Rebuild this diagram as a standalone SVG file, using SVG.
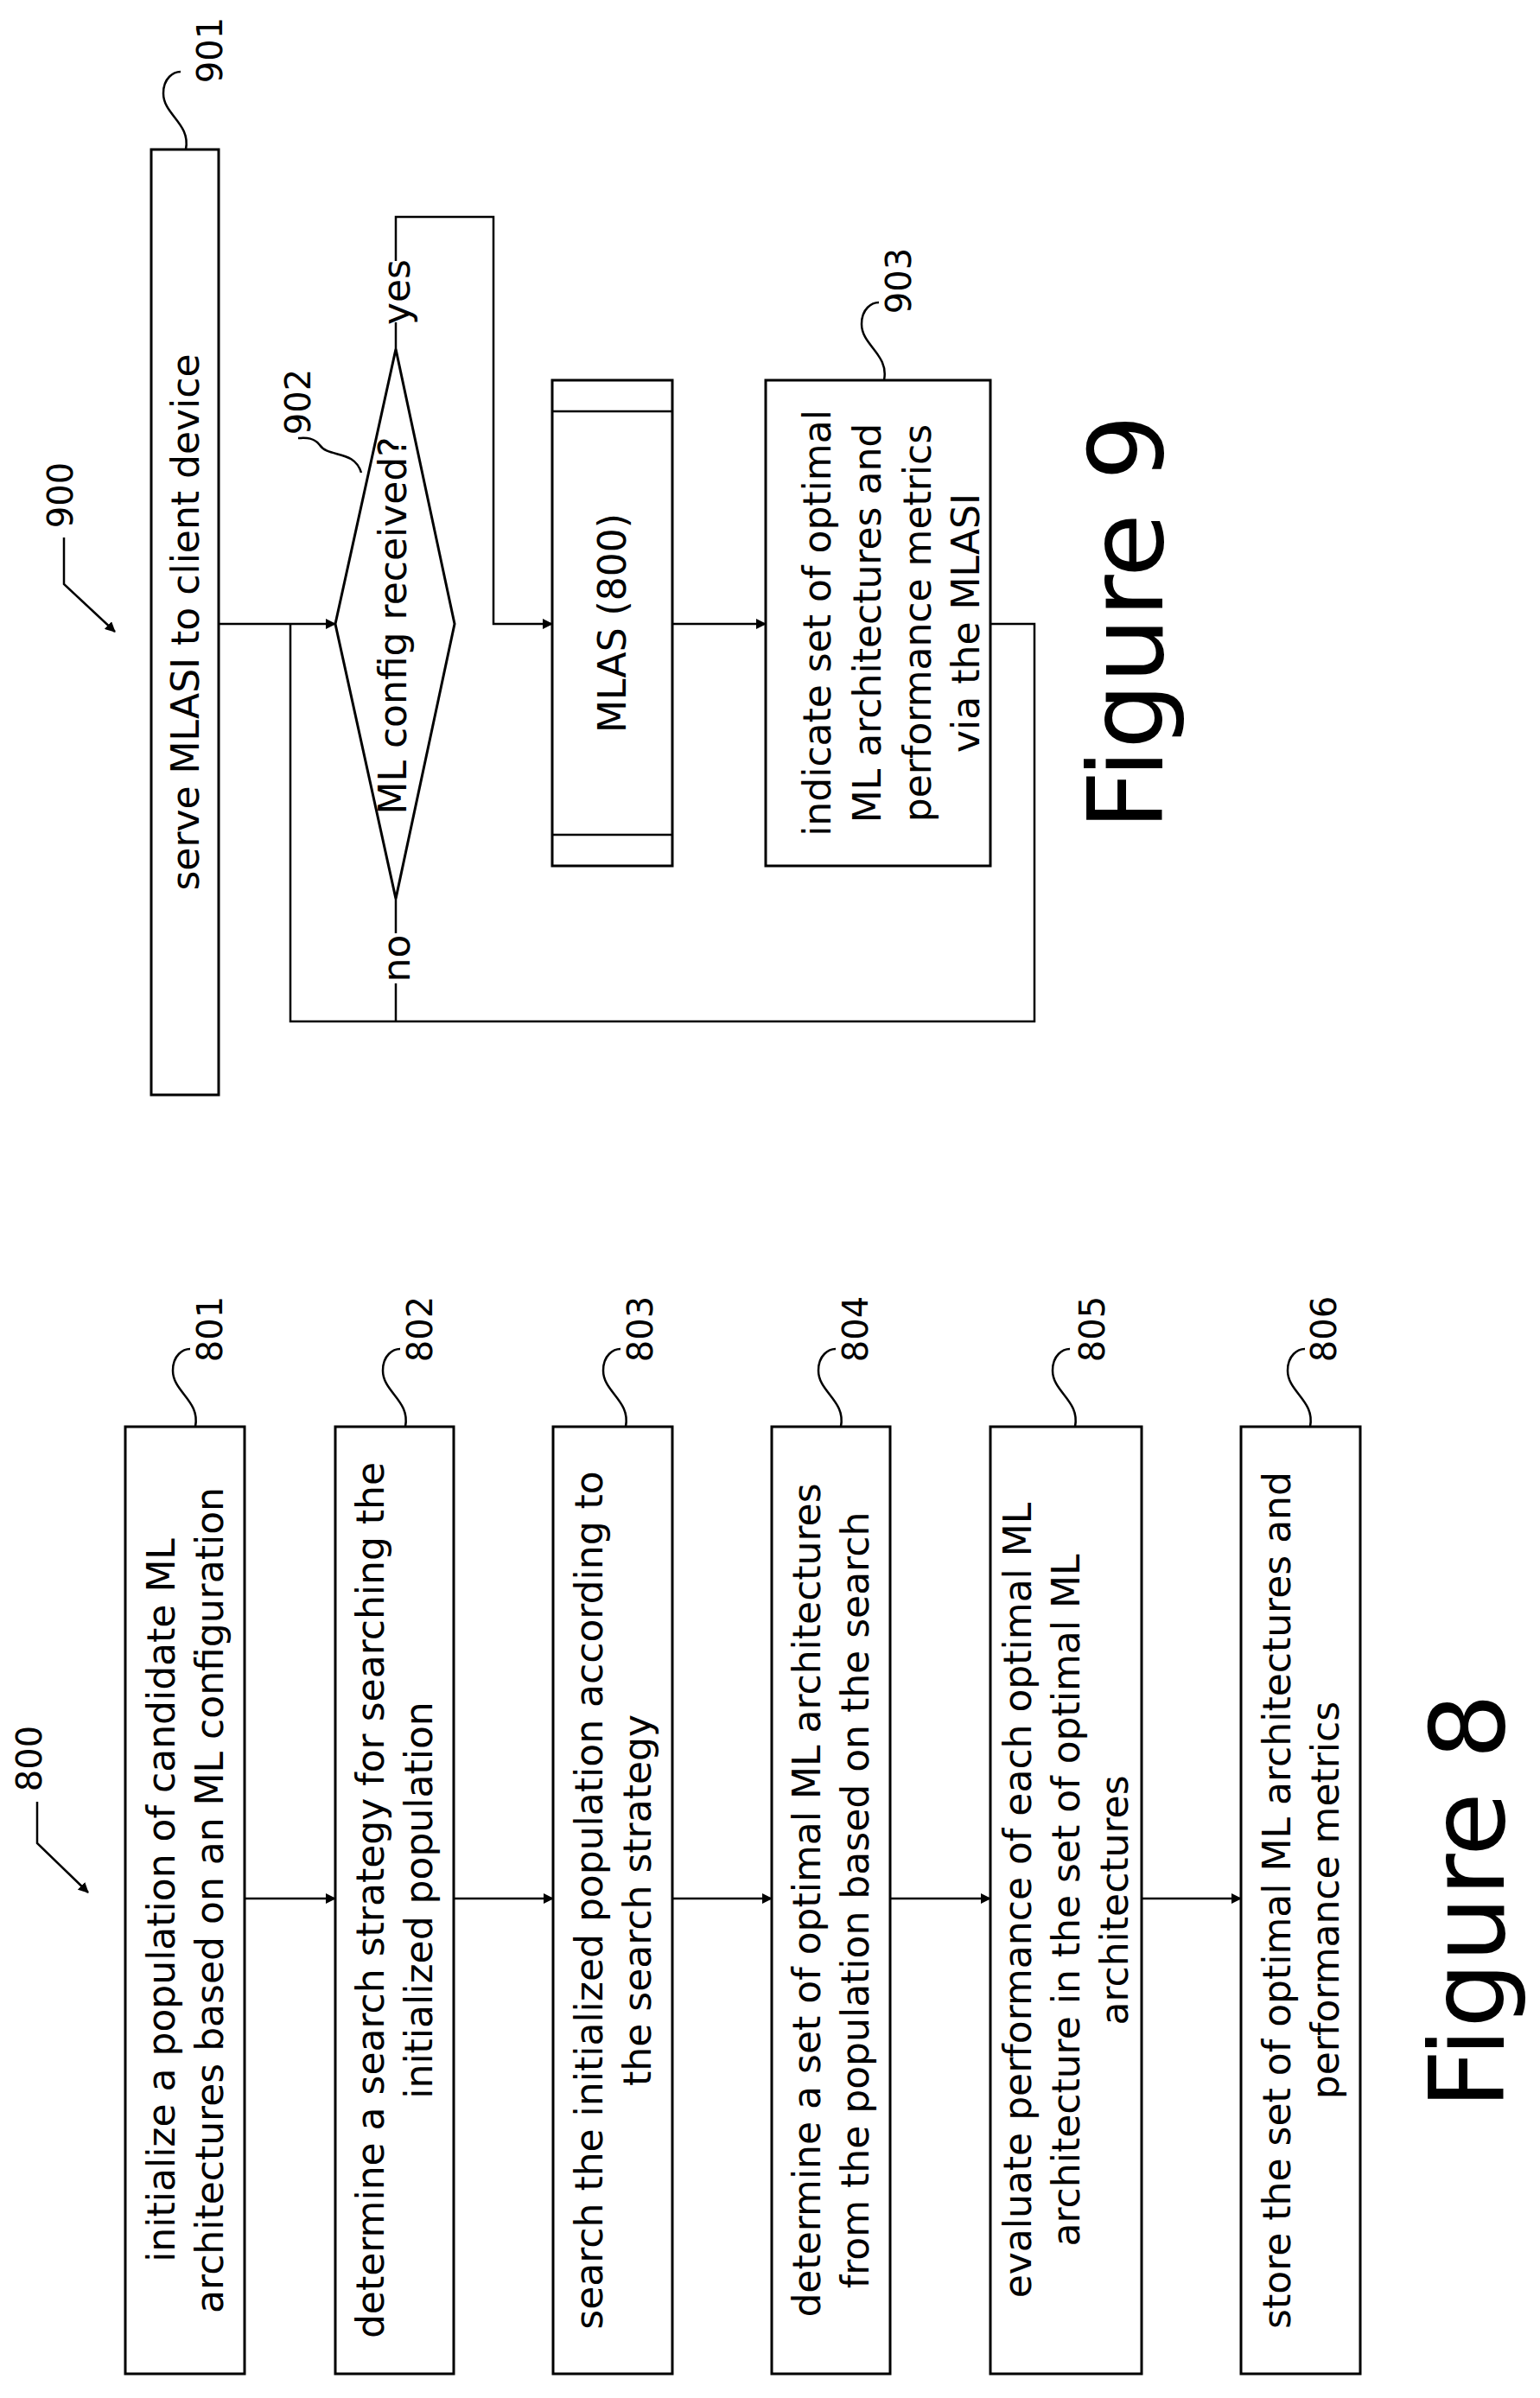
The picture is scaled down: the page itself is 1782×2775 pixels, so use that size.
<svg xmlns="http://www.w3.org/2000/svg" width="1782" height="2775" viewBox="0 0 1782 2775">
<defs>
<marker id="ah" markerWidth="12" markerHeight="12" refX="11" refY="6" orient="auto" markerUnits="userSpaceOnUse"><path d="M0,0 L12,6 L0,12 Z" fill="#000"/></marker>
<style>
.b{fill:#fff;stroke:#000;stroke-width:3}
.l{fill:none;stroke:#000;stroke-width:2.5}
.t{font-family:"DejaVu Sans",Verdana,sans-serif;font-size:44px;text-anchor:middle;dominant-baseline:central;fill:#000}
.r{font-family:"DejaVu Sans",Verdana,sans-serif;font-size:40px;text-anchor:middle;dominant-baseline:central;fill:#000}
.f{font-family:"DejaVu Sans",Verdana,sans-serif;font-size:120px;text-anchor:middle;fill:#000}
</style>
</defs>
<rect width="1782" height="2775" fill="#fff"/>
<g id="connectors">
<line class="l" x1="253" y1="722" x2="388" y2="722" marker-end="url(#ah)"/>
<polyline class="l" points="458,404 458,373"/>
<polyline class="l" points="458,302 458,251 571,251 571,722 639,722" marker-end="url(#ah)"/>
<polyline class="l" points="458,1040 458,1080"/>
<polyline class="l" points="458,1138 458,1182"/>
<polyline class="l" points="1146,722 1197,722 1197,1182 336,1182 336,722"/>
<line class="l" x1="778" y1="722" x2="886" y2="722" marker-end="url(#ah)"/>
<line class="l" x1="283" y1="2197" x2="388" y2="2197" marker-end="url(#ah)"/>
<line class="l" x1="525" y1="2197" x2="640" y2="2197" marker-end="url(#ah)"/>
<line class="l" x1="778" y1="2197" x2="893" y2="2197" marker-end="url(#ah)"/>
<line class="l" x1="1030" y1="2197" x2="1146" y2="2197" marker-end="url(#ah)"/>
<line class="l" x1="1321" y1="2197" x2="1436" y2="2197" marker-end="url(#ah)"/>
<polyline class="l" points="74,622 74,676 133,731" marker-end="url(#ah)"/>
<polyline class="l" points="43,2085 43,2133 102,2190" marker-end="url(#ah)"/>
</g>
<g id="labels-fig9">
<text class="r" transform="translate(243,58) rotate(-90)">901</text>
<path class="l" d="M215,173 c6,-30 -26,-40 -26,-65 c0,-18 12,-25 20,-25"/>
<text class="r" transform="translate(70,573) rotate(-90)">900</text>
<text class="r" transform="translate(345,465) rotate(-90)">902</text>
<path class="l" d="M418,547 C410,520 380,530 370,515 C362,505 352,507 345,507"/>
<text class="r" transform="translate(1040,325) rotate(-90)">903</text>
<path class="l" d="M1023,440 c6,-30 -26,-40 -26,-65 c0,-18 12,-25 20,-25"/>
<text class="t" transform="translate(458,338) rotate(-90)">yes</text>
<text class="t" transform="translate(458,1109) rotate(-90)">no</text>
<text class="f" transform="translate(1345,720) rotate(-90)">Figure 9</text>
</g>
<g id="n901"><rect class="b" x="175" y="173" width="78" height="1094"/><text class="t" transform="translate(214,720) rotate(-90)">serve MLASI to client device</text></g>
<g id="n902"><polygon class="b" points="458,404 526,722 458,1040 388,722"/><text class="t" transform="translate(454,724) rotate(-90)">ML config received?</text></g>
<g id="n800sub"><rect class="b" x="639" y="440" width="139" height="562"/><line class="l" x1="639" y1="476" x2="778" y2="476"/><line class="l" x1="639" y1="966" x2="778" y2="966"/><text class="t" transform="translate(708,721) rotate(-90)">MLAS (800)</text></g>
<g id="n903"><rect class="b" x="886" y="440" width="260" height="562"/>
<text class="t" transform="translate(945,721) rotate(-90)">indicate set of optimal</text>
<text class="t" transform="translate(1003,721) rotate(-90)">ML architectures and</text>
<text class="t" transform="translate(1061,721) rotate(-90)">performance metrics</text>
<text class="t" transform="translate(1117,721) rotate(-90)">via the MLASI</text></g>
<g id="labels-fig8">
<text class="r" transform="translate(34,2035) rotate(-90)">800</text>
<text class="r" transform="translate(243,1538) rotate(-90)">801</text>
<text class="r" transform="translate(486,1538) rotate(-90)">802</text>
<text class="r" transform="translate(741,1538) rotate(-90)">803</text>
<text class="r" transform="translate(990,1538) rotate(-90)">804</text>
<text class="r" transform="translate(1264,1538) rotate(-90)">805</text>
<text class="r" transform="translate(1532,1538) rotate(-90)">806</text>
<path class="l" d="M226,1651 c6,-30 -26,-40 -26,-65 c0,-18 12,-25 20,-25"/>
<path class="l" d="M469,1651 c6,-30 -26,-40 -26,-65 c0,-18 12,-25 20,-25"/>
<path class="l" d="M724,1651 c6,-30 -26,-40 -26,-65 c0,-18 12,-25 20,-25"/>
<path class="l" d="M973,1651 c6,-30 -26,-40 -26,-65 c0,-18 12,-25 20,-25"/>
<path class="l" d="M1244,1651 c6,-30 -26,-40 -26,-65 c0,-18 12,-25 20,-25"/>
<path class="l" d="M1516,1651 c6,-30 -26,-40 -26,-65 c0,-18 12,-25 20,-25"/>
<text class="f" transform="translate(1740,2200) rotate(-90)">Figure 8</text>
</g>
<g id="n801"><rect class="b" x="145" y="1651" width="138" height="1096"/>
<text class="t" transform="translate(186,2199) rotate(-90)">initialize a population of candidate ML</text>
<text class="t" transform="translate(242,2199) rotate(-90)">architectures based on an ML configuration</text></g>
<g id="n802"><rect class="b" x="388" y="1651" width="137" height="1096"/>
<text class="t" transform="translate(428,2199) rotate(-90)">determine a search strategy for searching the</text>
<text class="t" transform="translate(484,2199) rotate(-90)">initialized population</text></g>
<g id="n803"><rect class="b" x="640" y="1651" width="138" height="1096"/>
<text class="t" transform="translate(681,2199) rotate(-90)">search the initialized population according to</text>
<text class="t" transform="translate(737,2199) rotate(-90)">the search strategy</text></g>
<g id="n804"><rect class="b" x="893" y="1651" width="137" height="1096"/>
<text class="t" transform="translate(933,2199) rotate(-90)">determine a set of optimal ML architectures</text>
<text class="t" transform="translate(989,2199) rotate(-90)">from the population based on the search</text></g>
<g id="n805"><rect class="b" x="1146" y="1651" width="175" height="1096"/>
<text class="t" transform="translate(1177,2199) rotate(-90)">evaluate performance of each optimal ML</text>
<text class="t" transform="translate(1233,2199) rotate(-90)">architecture in the set of optimal ML</text>
<text class="t" transform="translate(1289,2199) rotate(-90)">architectures</text></g>
<g id="n806"><rect class="b" x="1436" y="1651" width="138" height="1096"/>
<text class="t" transform="translate(1477,2199) rotate(-90)">store the set of optimal ML architectures and</text>
<text class="t" transform="translate(1533,2199) rotate(-90)">performance metrics</text></g>
</svg>
